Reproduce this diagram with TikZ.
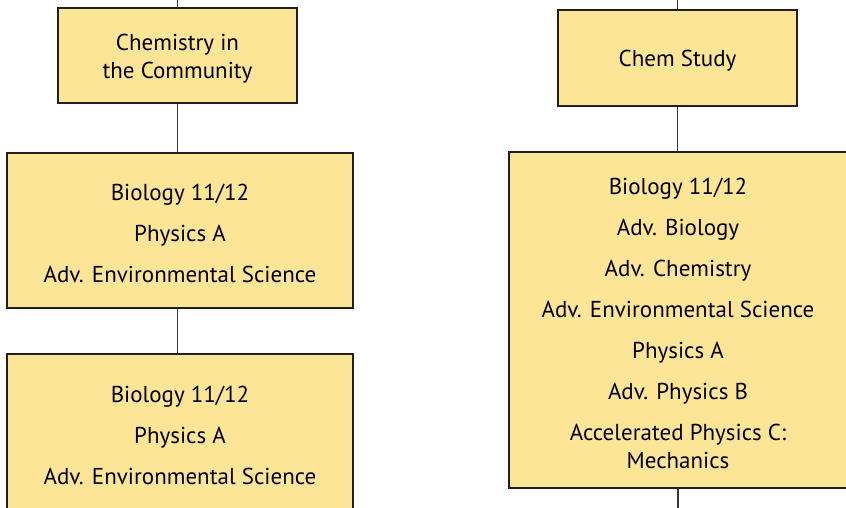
\documentclass[tikz,border=0pt]{standalone}
\usepackage{fontspec}
\setmainfont{PT Sans}
\definecolor{boxfill}{HTML}{FDE598}
\definecolor{edgeline}{HTML}{231F20}
\begin{document}
\begin{tikzpicture}[x=1pt,y=-1pt,
  course/.style={draw=edgeline, line width=1.8pt, fill=boxfill, inner sep=0pt},
  listing/.style={inner sep=0pt, align=center, text=black,
    font=\fontsize{23}{41}\selectfont, yshift=-3pt},
  pair/.style={font=\fontsize{23}{28}\selectfont},
  link/.style={draw=edgeline!90, line width=1.1pt}]
\useasboundingbox (0,0) rectangle (846,508);
\clip (0,0) rectangle (846,508);

% left track: boxes
\node[course, minimum width=239, minimum height=95] (cc) at (177.5,55.5) {};
\node[course, minimum width=346, minimum height=155] (la) at (180,230.5) {};
\node[course, minimum width=346, minimum height=156] (lb) at (180,432) {};
% left track: course names
\node[listing, pair] (cc-text) at (cc.center) {Chemistry in\\the Community};
\node[listing] (la-text) at (la.center)
  {Biology 11/12\\Physics A\\Adv. Environmental Science};
\node[listing] (lb-text) at (lb.center)
  {Biology 11/12\\Physics A\\Adv. Environmental Science};

% right track: boxes
\node[course, minimum width=239, minimum height=96] (cs) at (677.5,58) {};
\node[course, minimum width=338, minimum height=336] (ra) at (678,320) {};
% right track: course names
\node[listing, pair] (cs-text) at (cs.center) {Chem Study};
\node[listing] (ra-text) at (ra.center)
  {Biology 11/12\\Adv. Biology\\Adv. Chemistry\\Adv. Environmental Science\\Physics A\\Adv. Physics B\\Accelerated Physics C:\\[-13pt]Mechanics};

% connectors
\coordinate (ltop) at (cc.north |- 0,0);
\coordinate (rtop) at (cs.north |- 0,0);
\coordinate (rbot) at (ra.south |- 0,508);
\draw[link] (ltop) -- (cc.north);
\draw[link] (cc.south) -- (cc.south |- la.north);
\draw[link] (cc.south |- la.south) -- (cc.south |- lb.north);
\draw[link] (rtop) -- (cs.north);
\draw[link] (cs.south) -- (cs.south |- ra.north);
\draw[link] (ra.south) -- (rbot);
\end{tikzpicture}
\end{document}
